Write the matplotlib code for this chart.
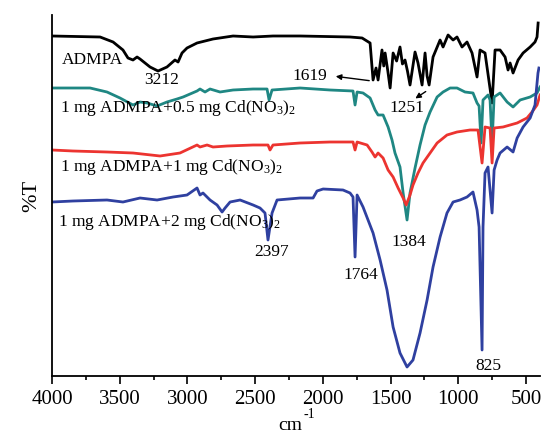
import matplotlib
matplotlib.use("Agg")
import matplotlib.pyplot as plt
from matplotlib.ticker import MultipleLocator

plt.rcParams['font.family'] = ['Liberation Serif', 'DejaVu Serif']
plt.rcParams['mathtext.fontset'] = 'custom'
plt.rcParams['mathtext.rm'] = 'Liberation Serif'
plt.rcParams['mathtext.it'] = 'Liberation Serif:italic'

# ADMPA (black)
wn_admpa = [4000, 3645, 3549, 3476, 3439, 3402, 3372, 3350, 3276, 3217, 3151, 3092, 3069,
            3040, 3003, 2929, 2811, 2663, 2515, 2368, 2168, 1799, 1710, 1651, 1629, 1607,
            1592, 1563, 1550, 1540, 1520, 1503, 1481, 1455, 1430, 1412, 1393, 1375, 1356,
            1319, 1297, 1267, 1245, 1230, 1215, 1186, 1134, 1112, 1075, 1038, 1009, 972,
            935, 898, 861, 839, 802, 750, 728, 691, 654, 632, 617, 595, 558, 521, 469,
            433, 418, 410]
t_admpa = [340, 339, 334, 326, 318, 316, 319, 317, 309, 305, 309, 316, 314,
           323, 328, 333, 337, 340, 339, 340, 340, 339, 338, 333, 296, 308,
           296, 326, 310, 323, 305, 288, 323, 315, 329, 312, 316, 305, 291,
           324, 313, 291, 323, 300, 291, 319, 336, 329, 341, 336, 339, 329,
           334, 323, 299, 326, 323, 273, 326, 326, 319, 306, 313, 303, 316, 323, 329,
           334, 339, 353]

# 1 mg ADMPA + 0.5 mg Cd(NO3)2 (teal)
wn_05 = [4000, 3719, 3594, 3498, 3402, 3350, 3298, 3224, 3151, 3077, 3032, 2929, 2907,
         2870, 2833, 2759, 2663, 2515, 2412, 2397, 2375, 2168, 1947, 1777, 1762, 1747,
         1703, 1651, 1614, 1592, 1555, 1518, 1489, 1467, 1430, 1407, 1378, 1356, 1319,
         1282, 1245, 1208, 1156, 1112, 1060, 1009, 950, 891, 861, 846, 831, 817, 780,
         765, 750, 735, 691, 639, 595, 543, 469, 418, 396]
t_05 = [288, 288, 284, 278, 271, 274, 273, 270, 274, 277, 279, 285, 287,
        284, 287, 284, 286, 287, 287, 276, 286, 288, 286, 285, 271, 284,
        283, 278, 266, 261, 261, 249, 236, 223, 209, 183, 156, 183, 208,
        231, 251, 264, 279, 284, 288, 288, 284, 283, 273, 270, 233, 276, 281,
        276, 233, 279, 283, 274, 269, 276, 279, 283, 289]

# 1 mg ADMPA + 1 mg Cd(NO3)2 (red)
wn_1 = [4000, 3845, 3594, 3402, 3202, 3055, 2929, 2907, 2855, 2811, 2707, 2515, 2405,
        2390, 2368, 2168, 1947, 1777, 1762, 1747, 1673, 1637, 1614, 1592, 1555, 1518,
        1481, 1444, 1407, 1385, 1356, 1334, 1297, 1260, 1208, 1156, 1083, 1009, 913,
        854, 824, 802, 765, 750, 735, 669, 565, 492, 455, 418, 396]
t_1 = [226, 225, 224, 223, 220, 223, 231, 229, 231, 229, 230, 231, 231,
       226, 231, 233, 234, 234, 226, 234, 231, 224, 219, 223, 218, 206,
       199, 188, 178, 171, 181, 191, 203, 213, 223, 233, 241, 244, 246,
       246, 213, 249, 248, 213, 248, 249, 253, 258, 264, 271, 281]

# 1 mg ADMPA + 2 mg Cd(NO3)2 (blue)
wn_2 = [4000, 3845, 3594, 3476, 3350, 3224, 3106, 3003, 2929, 2907, 2885, 2833, 2781,
        2744, 2722, 2685, 2611, 2515, 2464, 2427, 2405, 2375, 2338, 2168, 2072, 2043,
        1998, 1851, 1799, 1777, 1762, 1747, 1703, 1629, 1577, 1526, 1481, 1430, 1378,
        1334, 1282, 1230, 1186, 1134, 1083, 1038, 987, 935, 891, 861, 846, 824, 817,
        802, 780, 750, 735, 713, 691, 639, 595, 565, 521, 469, 433, 411, 404]
t_2 = [174, 175, 176, 174, 178, 176, 179, 181, 188, 181, 183, 176, 171,
       164, 168, 174, 176, 171, 168, 163, 136, 163, 176, 178, 178, 185,
       187, 186, 183, 179, 119, 181, 169, 143, 116, 86, 49, 23, 9,
       16, 43, 76, 109, 139, 163, 174, 176, 179, 184, 166, 149, 26, 149,
       203, 209, 163, 206, 216, 223, 229, 224, 238, 249, 258, 271, 303, 308]

fig = plt.figure(figsize=(5.43, 4.36), dpi=100)
ax = fig.add_axes([0.0958, 0.1376, 0.8987, 0.828])

ax.plot(wn_admpa, t_admpa, color='#000000', lw=2)
ax.plot(wn_05, t_05, color='#1f8783', lw=2)
ax.plot(wn_1, t_1, color='#ec3430', lw=2)
ax.plot(wn_2, t_2, color='#2f40a0', lw=2)

ax.set_xlim(4000, 396)
ax.set_ylim(0, 361)
ax.set_yticks([])
ax.xaxis.set_major_locator(MultipleLocator(500))
ax.xaxis.set_minor_locator(MultipleLocator(250))
ax.tick_params(axis='x', which='major', direction='out', length=6, width=1.2,
               labelsize=15, pad=4)
ax.tick_params(axis='x', which='minor', direction='out', length=3, width=1.2)
for s in ['top', 'right']:
    ax.spines[s].set_visible(False)
for s in ['left', 'bottom']:
    ax.spines[s].set_linewidth(1.3)

ax.set_ylabel('%T', fontsize=16, labelpad=8)
ax.text(0.488, -0.138, 'cm', transform=ax.transAxes, fontsize=14, ha='center', va='center')
ax.text(0.516, -0.108, '-1', transform=ax.transAxes, fontsize=10, ha='left', va='center')

fs = 12.5
ax.text(3926, 316, 'ADMPA', fontsize=fs, ha='left', va='center')
ax.text(3188, 296, '3212', fontsize=fs, ha='center', va='center')
ax.text(3941, 268, '1 mg ADMPA+0.5 mg Cd(NO$_3$)$_2$', fontsize=fs, ha='left', va='center')
ax.text(3941, 209, '1 mg ADMPA+1 mg Cd(NO$_3$)$_2$', fontsize=fs, ha='left', va='center')
ax.text(3956, 154, '1 mg ADMPA+2 mg Cd(NO$_3$)$_2$', fontsize=fs, ha='left', va='center')
ax.text(2382, 124, '2397', fontsize=fs, ha='center', va='center')
ax.text(1363, 134, '1384', fontsize=fs, ha='center', va='center')
ax.text(1718, 101, '1764', fontsize=fs, ha='center', va='center')
ax.text(780, 10, '825', fontsize=fs, ha='center', va='center')
ax.text(2094, 300, '1619', fontsize=fs, ha='center', va='center')
ax.text(1378, 268, '1251', fontsize=fs, ha='center', va='center')

arrow = dict(arrowstyle='-|>', color='black', lw=1.0, mutation_scale=8)
ax.annotate('', xy=(1925, 300), xytext=(1637, 295), arrowprops=arrow)
ax.annotate('', xy=(1334, 276), xytext=(1223, 286), arrowprops=arrow)

fig.savefig('out.png', dpi=100)
